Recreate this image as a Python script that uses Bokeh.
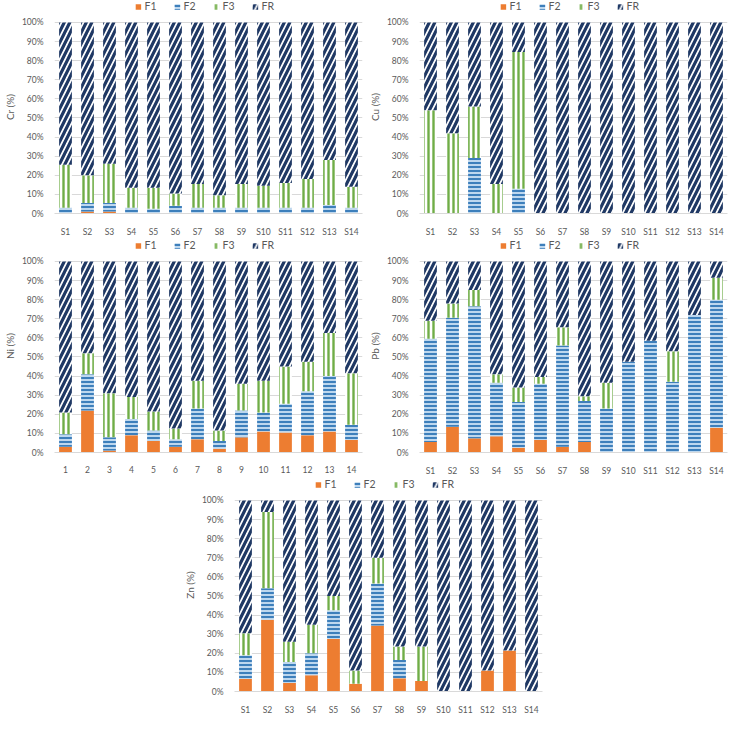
from bokeh.plotting import figure
from bokeh.layouts import column, row, Spacer
from bokeh.models import FactorRange, Range1d, FixedTicker, PrintfTickFormatter
from bokeh.embed import file_html
from bokeh.resources import INLINE

samples_s = ["S1", "S2", "S3", "S4", "S5", "S6", "S7", "S8", "S9", "S10", "S11", "S12", "S13", "S14"]
samples_n = ["1", "2", "3", "4", "5", "6", "7", "8", "9", "10", "11", "12", "13", "14"]
fractions = ["F1", "F2", "F3", "FR"]
y_ticks = [0, 10, 20, 30, 40, 50, 60, 70, 80, 90, 100]

cr_f1 = [0, 1, 1, 0, 0, 0, 0, 0, 0, 0, 0, 0, 0, 0]
cr_f2 = [3, 4.5, 4.5, 3, 2.5, 4, 3, 3, 3, 3, 3, 3, 4.5, 3]
cr_f3 = [22.5, 14.5, 20.5, 10.5, 11, 6.5, 12.5, 6.5, 12.5, 11.5, 13, 15, 23.5, 11]
cr_fr = [74.5, 80, 74, 86.5, 86.5, 89.5, 84.5, 90.5, 84.5, 85.5, 84, 82, 72, 86]

cu_f1 = [0, 0, 0, 0, 0, 0, 0, 0, 0, 0, 0, 0, 0, 0]
cu_f2 = [0, 0, 29, 0, 13, 0, 0, 0, 0, 0, 0, 0, 0, 0]
cu_f3 = [54, 42, 27, 15.5, 71.5, 0, 0, 0, 0, 0, 0, 0, 0, 0]
cu_fr = [46, 58, 44, 84.5, 15.5, 100, 100, 100, 100, 100, 100, 100, 100, 100]

ni_f1 = [3, 22, 1, 9, 6, 3, 7, 2, 8, 11, 10.5, 9, 11, 6.5]
ni_f2 = [6.5, 19, 7, 8.5, 5.5, 4, 16, 4, 14, 10, 15, 23, 29, 8]
ni_f3 = [11.5, 11, 23, 11.5, 10, 5.5, 14.5, 5.5, 14, 16.5, 19.5, 15.5, 22.5, 27]
ni_fr = [79, 48, 69, 71, 78.5, 87.5, 62.5, 88.5, 64, 62.5, 55, 52.5, 37.5, 58.5]

pb_f1 = [5.5, 13.5, 7.5, 8.5, 2.5, 6.5, 3, 5.5, 0, 0, 0, 0, 0, 13]
pb_f2 = [54, 57, 69, 28, 24, 29.5, 53, 21.5, 23, 47.5, 58.5, 37, 72, 67]
pb_f3 = [9.5, 7.5, 8.5, 4.5, 7.5, 3.5, 9.5, 2.5, 13.5, 0, 0, 16, 0, 11.5]
pb_fr = [31, 22, 15, 59, 66, 60.5, 34.5, 70.5, 63.5, 52.5, 41.5, 47, 28, 8.5]

zn_f1 = [6.5, 37.5, 4.5, 8.5, 27.5, 4, 34.5, 7, 5.5, 0, 0, 11, 21.5, 0]
zn_f2 = [12.5, 16.5, 11, 11.5, 15, 0, 22, 9.5, 0, 0, 0, 0, 0, 0]
zn_f3 = [11.5, 40, 10.5, 15, 7.5, 7, 13.5, 7, 18, 0, 0, 0, 0, 0]
zn_fr = [69.5, 6, 74, 65, 50, 89, 30, 76.5, 76.5, 100, 100, 89, 78.5, 100]

FONT = "Lato"
TXT = "#595959"


def panel(cats, f1, f2, f3, fr, ylabel, w=365, h=239):
    p = figure(x_range=FactorRange(*cats), y_range=Range1d(0, 111.5),
               width=w, height=h, output_backend="svg", toolbar_location=None,
               min_border_left=4, min_border_right=3, min_border_top=0, min_border_bottom=4)
    data = dict(x=cats, F1=f1, F2=f2, F3=f3, FR=fr)
    p.vbar_stack(fractions, x="x", width=0.58, source=data,
                 fill_color=["#ED7D31", "#BDD7EE", "white", "white"],
                 line_color=[None, None, None, None],
                 hatch_pattern=[" ", "horizontal_line", "vertical_line", "right_diagonal_line"],
                 hatch_color=["#ED7D31", "#2E75B6", "#70AD47", "#1F3864"],
                 hatch_scale=[4, 4, 5, 11],
                 hatch_weight=[0.1, 1.8, 2.4, 3.2],
                 legend_label=fractions)
    p.outline_line_color = None
    p.xgrid.grid_line_color = None
    p.ygrid.grid_line_color = "#D9D9D9"
    p.ygrid.ticker = FixedTicker(ticks=y_ticks)
    p.yaxis.ticker = FixedTicker(ticks=y_ticks)
    p.yaxis.formatter = PrintfTickFormatter(format="%d%%")
    p.yaxis.axis_line_color = None
    p.xaxis.axis_line_color = "#D9D9D9"
    for ax in (p.xaxis, p.yaxis):
        ax.major_tick_line_color = None
        ax.minor_tick_line_color = None
        ax.major_label_text_font = FONT
        ax.major_label_text_font_size = "8.5px"
        ax.major_label_text_color = TXT
    p.yaxis.major_label_standoff = 5
    p.xaxis.major_label_standoff = 7
    p.yaxis.axis_label = ylabel
    p.yaxis.axis_label_text_font = FONT
    p.yaxis.axis_label_text_font_size = "10px"
    p.yaxis.axis_label_text_font_style = "normal"
    p.yaxis.axis_label_text_color = TXT
    p.yaxis.axis_label_standoff = 3
    p.x_range.range_padding = 0.0
    leg = p.legend[0]
    leg.orientation = "horizontal"
    leg.location = "top_center"
    leg.border_line_color = None
    leg.background_fill_alpha = 0
    leg.label_text_font = FONT
    leg.label_text_font_size = "10.5px"
    leg.label_text_color = TXT
    leg.glyph_width = 7
    leg.glyph_height = 7
    leg.label_standoff = 3
    leg.spacing = 9
    leg.padding = 0
    leg.margin = 0
    leg.label_height = 10
    return p


p_cr = panel(samples_s, cr_f1, cr_f2, cr_f3, cr_fr, "Cr (%)")
p_cu = panel(samples_s, cu_f1, cu_f2, cu_f3, cu_fr, "Cu (%)")
p_ni = panel(samples_n, ni_f1, ni_f2, ni_f3, ni_fr, "Ni (%)")
p_pb = panel(samples_s, pb_f1, pb_f2, pb_f3, pb_fr, "Pb (%)")
p_zn = panel(samples_s, zn_f1, zn_f2, zn_f3, zn_fr, "Zn (%)")

layout = column(row(p_cr, p_cu), row(p_ni, p_pb), row(Spacer(width=180, height=239), p_zn))
open("out.html", "w").write(file_html(layout, INLINE))
